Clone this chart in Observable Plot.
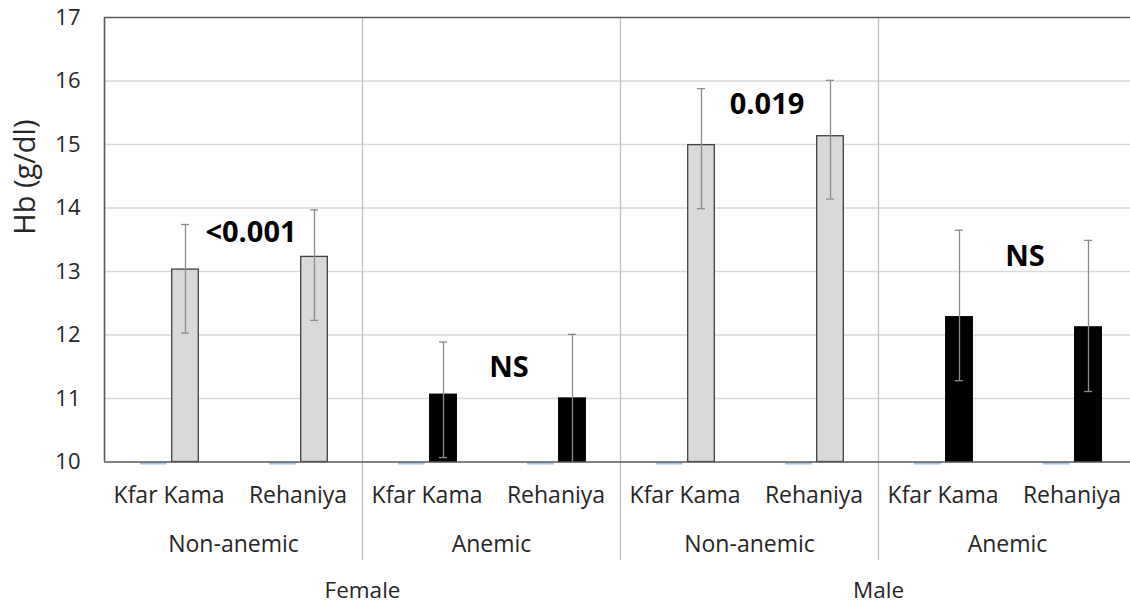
<!DOCTYPE html>
<html><head><meta charset="utf-8">
<script src="https://cdn.jsdelivr.net/npm/d3@7"></script>
<script src="https://cdn.jsdelivr.net/npm/@observablehq/plot@0.6"></script>
<style>
html,body{margin:0;padding:0;background:#fff;overflow:hidden;}
#chart{width:1130px;height:604px;overflow:hidden;}
#chart svg{max-width:none !important;height:604px !important;}
</style></head><body><div id="chart"></div>
<script>
// ---- data ----
const sexes    = ["Female","Female","Female","Female","Male","Male","Male","Male"];
const statuses = ["Non-anemic","Non-anemic","Anemic","Anemic","Non-anemic","Non-anemic","Anemic","Anemic"];
const villages = ["Kfar Kama","Rehaniya","Kfar Kama","Rehaniya","Kfar Kama","Rehaniya","Kfar Kama","Rehaniya"];
const hbMean   = [13.03, 13.23, 11.06, 11.00, 14.99, 15.13, 12.28, 12.12];
const hbLow    = [12.03, 12.23, 10.07, 10.00, 13.99, 14.14, 11.28, 11.11];
const hbHigh   = [13.74, 13.97, 11.89, 12.01, 15.88, 16.01, 13.65, 13.49];
const otherSeries = [10, 10, 10, 10, 10, 10, 10, 10]; // empty companion series at baseline
const pLabels  = ["<0.001", "NS", "0.019", "NS"];
const pLabelAt = [1, 3, 5, 7];           // category (Rehaniya of each pair)
const pLabelY  = [13.61, 11.49, 15.63, 13.23];
const yTicks   = [10, 11, 12, 13, 14, 15, 16, 17];
const groupStarts = [0, 2, 4, 6];
const sexStarts = [0, 4];
const separators = [2, 4, 6];

const rows = villages.map((v, i) => ({
  key: i, sex: sexes[i], status: statuses[i], village: v,
  mean: hbMean[i], lo: hbLow[i], hi: hbHigh[i], other: otherSeries[i]
}));

const W = 1136, ML = 104, MR = 0, MT = 17, H = 604, MB = 142.5;
const bw = (W - MR - ML) / 8;
const FONT = "Open Sans";
const txt = "#262626";
const dark = "#595959";

const chart = Plot.plot({
  width: W, height: H,
  marginLeft: ML, marginRight: MR, marginTop: MT, marginBottom: MB,
  style: {fontFamily: FONT, fontSize: "22px", color: "#404040", background: "#fff", overflow: "visible"},
  x: {type: "band", domain: d3.range(8), padding: 0, axis: null},
  y: {domain: [10, 17], axis: null},
  marks: [
    Plot.ruleY(yTicks.slice(1, -1), {stroke: "#d9d9d9", strokeWidth: 1.3}),
    Plot.ruleX(separators, {x: d => d, dx: -bw / 2, y1: 17, y2: 10, insetBottom: -98.5, stroke: "#bfbfbf", strokeWidth: 1.3}),
    Plot.tickY(rows, {x: "key", y: "other", insetLeft: 36, insetRight: bw - 62.7, dy: 1.5, stroke: "#5b9bd5", strokeWidth: 2, strokeOpacity: 0.6}),
    Plot.rectY(rows.filter(d => d.status === "Non-anemic"), {x: "key", y1: 10, y2: "mean", insetLeft: 67.7, insetRight: bw - 94.3, fill: "#d9d9d9", stroke: "#404040", strokeWidth: 1.3}),
    Plot.rectY(rows.filter(d => d.status === "Anemic"), {x: "key", y1: 10, y2: "mean", insetLeft: 67.7, insetRight: bw - 94.3, fill: "#000", stroke: "#000", strokeWidth: 1.3}),
    Plot.ruleX(rows, {x: "key", y1: "lo", y2: "hi", dx: 16.5, stroke: "#8c8c8c", strokeWidth: 1.3}),
    Plot.tickY(rows, {x: "key", y: "hi", insetLeft: 77, insetRight: bw - 85, stroke: "#8c8c8c", strokeWidth: 1.3}),
    Plot.tickY(rows.filter(d => d.lo > 10), {x: "key", y: "lo", insetLeft: 77, insetRight: bw - 85, stroke: "#8c8c8c", strokeWidth: 1.3}),
    // plot-area border: top, bottom, left (right edge lies beyond the picture)
    Plot.ruleY([yTicks[0], yTicks[yTicks.length - 1]], {stroke: dark, strokeWidth: 1.6}),
    Plot.ruleX([0], {x: d => d, dx: -bw / 2, y1: 17, y2: 10, stroke: dark, strokeWidth: 1.6}),
    Plot.axisY({ticks: yTicks, tickFormat: d3.format("d"), tickSize: 0, tickPadding: 24, fontSize: 22, label: null, fill: txt}),
    Plot.text(["Hb (g/dl)"], {text: d => d, frameAnchor: "left", rotate: -90, dx: -79, dy: -5, fontSize: 29, fill: txt}),
    // category labels
    Plot.text(rows, {x: "key", y: 10, text: "village", lineAnchor: "top", dy: 24.5, fontSize: 23, fill: txt}),
    // status group labels
    Plot.text(groupStarts, {x: d => d, y: 10, text: d => statuses[d], dx: bw / 2, lineAnchor: "top", dy: 73.5, fontSize: 23, fill: txt}),
    // sex labels
    Plot.text(sexStarts, {x: d => d + 1, y: 10, text: d => sexes[d], dx: bw / 2, lineAnchor: "top", dy: 120, fontSize: 22.5, fill: txt}),
    // p-value annotations
    Plot.text(pLabels, {x: (d, i) => pLabelAt[i], y: (d, i) => pLabelY[i], text: d => d, dx: -bw / 2 + 17.5, fontSize: 29, fontWeight: "bold", fill: "#000"})
  ]
});
document.getElementById("chart").appendChild(chart);
</script></body></html>
